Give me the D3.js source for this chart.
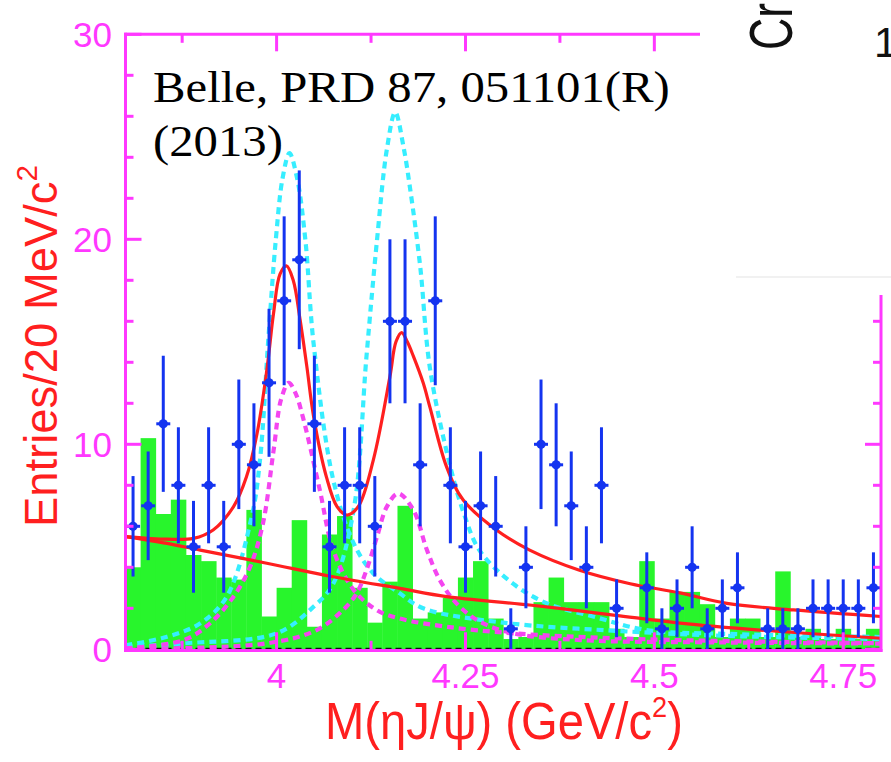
<!DOCTYPE html>
<html><head><meta charset="utf-8">
<script src="https://cdn.jsdelivr.net/npm/d3@7"></script>
<style>html,body{margin:0;padding:0;background:#fff;} svg{display:block}</style>
</head><body><svg id="c" width="891" height="762"></svg>
<script>
// ---------------- DATA ----------------
const binCenters = [3.81,3.83,3.85,3.87,3.89,3.91,3.93,3.95,3.97,3.99,
  4.01,4.03,4.05,4.07,4.09,4.11,4.13,4.15,4.17,4.19,
  4.21,4.23,4.25,4.27,4.29,4.31,4.33,4.35,4.37,4.39,
  4.41,4.43,4.45,4.47,4.49,4.51,4.53,4.55,4.57,4.59,
  4.61,4.63,4.65,4.67,4.69,4.71,4.73,4.75,4.77,4.79];
const binWidth = 0.02;
const dataCounts = [6,7,11,8,5,8,5,10,9,13,
  17,19,11,5,8,8,6,16,16,9,
  17,8,5,7,6,1,4,10,9,7,
  4,8,2,0,3,1,2,4,1,2,
  3,0,1,1,1,2,2,2,2,3];
const dataErrors = [2.45,2.65,3.32,2.83,2.24,2.83,2.24,3.16,3.00,3.61,
  4.12,4.36,3.32,2.24,2.83,2.83,2.45,4.00,4.00,3.00,
  4.12,2.83,2.24,2.65,2.45,1.00,2.00,3.16,3.00,2.65,
  2.00,2.83,1.41,0,1.73,1.00,1.41,2.00,1.00,1.41,
  1.73,0,1.00,1.00,1.00,1.41,1.41,1.41,1.41,1.73];
const sidebandBkg = [4.0,10.3,6.6,7.3,4.6,4.3,3.5,3.4,6.8,1.6,
  3.0,6.3,1.1,5.6,6.5,3.0,1.3,3.3,7.0,1.5,
  1.8,2.5,3.5,4.3,1.5,0.5,0.6,2.3,3.5,2.3,
  2.3,2.3,1.0,0.6,4.3,1.5,2.8,2.8,2.2,0.6,
  1.5,1.5,0.6,3.8,0.6,1.0,0.5,1.0,0.5,1.0];
const fitTotal = [[3.80,5.5],[3.855,5.37],[3.89,5.41],[3.916,5.82],[3.943,6.96],[3.960,8.4],[3.974,10.5],
  [3.987,13.6],[3.996,16.4],[4.0045,18.3],[4.013,18.7],[4.022,18.0],[4.031,16.1],[4.040,13.8],
  [4.049,11.35],[4.066,8.4],[4.080,6.96],[4.093,6.55],[4.108,6.96],[4.128,9.23],[4.150,13.3],
  [4.158,15.0],[4.1655,15.45],[4.173,15.0],[4.181,14.3],[4.194,13.0],[4.203,11.8],[4.225,8.9],
  [4.247,7.28],[4.291,5.82],[4.335,4.84],[4.40,3.87],[4.468,3.2],[4.534,2.75],[4.596,2.24],
  [4.684,1.92],[4.80,1.6]];
const fitBackground = [[3.80,5.5],[3.855,5.17],[3.899,4.84],[3.987,4.2],[4.075,3.54],[4.163,2.97],
  [4.225,2.57],[4.335,2.16],[4.446,1.67],[4.534,1.28],[4.640,0.94],[4.80,0.54]];
const cyanPeak1 = [[3.80,0.2],[3.855,0.61],[3.899,1.27],[3.934,2.57],[3.967,6.47],[3.978,9.23],
  [3.989,15.1],[3.999,20.0],[4.008,23.0],[4.017,24.2],[4.027,23.0],[4.038,20.0],[4.049,14.9],
  [4.075,8.26],[4.102,5.17],[4.128,3.7],[4.163,2.73],[4.194,2.0],[4.30,1.3],[4.45,0.9],
  [4.60,0.65],[4.80,0.5]];
const cyanPeak2 = [[3.80,0.13],[3.877,0.29],[4.000,0.78],[4.049,2.08],[4.075,3.2],[4.102,6.8],
  [4.119,14.3],[4.133,20.0],[4.146,24.4],[4.157,26.2],[4.168,24.5],[4.177,22.4],[4.190,18.7],
  [4.203,13.7],[4.230,8.9],[4.249,6.5],[4.269,4.8],[4.313,3.2],[4.358,2.24],[4.419,1.6],
  [4.490,0.94],[4.60,0.75],[4.80,0.6]];
const magentaPeak1 = [[3.80,0.05],[3.877,0.45],[3.912,1.27],[3.943,2.57],[3.965,4.03],[3.982,6.15],
  [3.996,9.7],[4.006,12.2],[4.016,13.0],[4.025,12.5],[4.035,11.3],[4.057,7.8],[4.075,4.84],
  [4.102,2.9],[4.133,1.9],[4.163,1.5],[4.225,1.1],[4.313,0.78],[4.446,0.54],[4.60,0.4],[4.80,0.3]];
const magentaPeak2 = [[3.80,0.02],[3.987,0.29],[4.053,0.94],[4.088,1.92],[4.106,2.73],[4.119,3.87],
  [4.133,5.5],[4.146,6.96],[4.161,7.6],[4.181,6.8],[4.199,4.84],[4.216,3.38],[4.238,2.24],
  [4.269,1.35],[4.313,0.78],[4.402,0.45],[4.60,0.33],[4.80,0.28]];
const xTickValues = [4, 4.25, 4.5, 4.75];
const xTickLabels = ["4", "4.25", "4.5", "4.75"];
const xMidTicks = [3.875, 4.125, 4.375, 4.625];
const yTickValues = [0, 10, 20, 30];
const yTickLabels = ["0", "10", "20", "30"];
const yMinorTicks = [2,4,6,8,12,14,16,18,22,24,26,28];

// ---------------- LAYOUT ----------------
const L = 125.5, R = 881, T = 34.3, B = 649.3;
const MAG = "#ff38ff", RED = "#ff1f1f", BLUE = "#1434f0", GREEN = "#28f52c",
      CYAN = "#36eeff", MAGC = "#f445f0";
const x = d3.scaleLinear().domain([3.8, 4.8]).range([L, R]);
const y = d3.scaleLinear().domain([0, 30]).range([B, T]);
const svg = d3.select("#c");

svg.append("defs").append("clipPath").attr("id","plot")
  .append("rect").attr("x",L).attr("y",T).attr("width",R-L).attr("height",B-T);

// sideband histogram
svg.append("g").selectAll("rect").data(binCenters).join("rect")
  .attr("x", d => x(d - binWidth/2))
  .attr("width", d => x(d + binWidth/2) - x(d - binWidth/2) + 0.4)
  .attr("y", (d,i) => y(sidebandBkg[i]))
  .attr("height", (d,i) => y(0) - y(sidebandBkg[i]))
  .attr("fill", GREEN);

// black dashed zero line
svg.append("line").attr("x1",L).attr("x2",R).attr("y1",y(0)-0.8).attr("y2",y(0)-0.8)
  .attr("stroke","#111").attr("stroke-width",1.6).attr("stroke-dasharray","6,4");

// curves
const line = d3.line().x(d => x(d[0])).y(d => y(d[1])).curve(d3.curveCatmullRom.alpha(0.5));
const cg = svg.append("g").attr("clip-path","url(#plot)").attr("fill","none");
[[cyanPeak1,CYAN],[cyanPeak2,CYAN],[magentaPeak1,MAGC],[magentaPeak2,MAGC]].forEach(([d,c]) => {
  cg.append("path").attr("d", line(d)).attr("stroke", c).attr("stroke-width", 4.2)
    .attr("stroke-dasharray","7,5");
});
[fitBackground, fitTotal].forEach(d => {
  cg.append("path").attr("d", line(d)).attr("stroke", RED).attr("stroke-width", 3.2);
});

// data points
const pg = svg.append("g");
binCenters.forEach((m,i) => {
  const n = dataCounts[i];
  if (n <= 0) return;
  const cx = x(m), cy = y(n);
  pg.append("line").attr("x1",cx).attr("x2",cx)
    .attr("y1", y(n + dataErrors[i])).attr("y2", y(Math.max(0, n - dataErrors[i])))
    .attr("stroke", BLUE).attr("stroke-width", 3);
  pg.append("line").attr("x1",cx-7).attr("x2",cx+7).attr("y1",cy).attr("y2",cy)
    .attr("stroke", BLUE).attr("stroke-width", 3);
  pg.append("circle").attr("cx",cx).attr("cy",cy).attr("r",4.6).attr("fill",BLUE);
});

// axes frame
const ax = svg.append("g").attr("stroke", MAG).attr("stroke-width", 3).attr("fill","none");
ax.append("line").attr("x1",L).attr("x2",L).attr("y1",T-1.5).attr("y2",B+2.5);
ax.append("line").attr("x1",L-1.5).attr("x2",R+1.5).attr("y1",B+1.2).attr("y2",B+1.2);
ax.append("line").attr("x1",L-1.5).attr("x2",700).attr("y1",T).attr("y2",T);
ax.append("line").attr("x1",R).attr("x2",R).attr("y1",295).attr("y2",B+2.5);
xTickValues.forEach(v => {
  ax.append("line").attr("x1",x(v)).attr("x2",x(v)).attr("y1",B).attr("y2",B-17);
  if (x(v) < 700) ax.append("line").attr("x1",x(v)).attr("x2",x(v)).attr("y1",T).attr("y2",T+17);
});
xMidTicks.forEach(v => {
  ax.append("line").attr("x1",x(v)).attr("x2",x(v)).attr("y1",B).attr("y2",B-8.5);
  if (x(v) < 700) ax.append("line").attr("x1",x(v)).attr("x2",x(v)).attr("y1",T).attr("y2",T+8.5);
});
yTickValues.forEach(v => {
  ax.append("line").attr("x1",L).attr("x2",L+16).attr("y1",y(v)).attr("y2",y(v));
  if (y(v) > 295) ax.append("line").attr("x1",R).attr("x2",R-16).attr("y1",y(v)).attr("y2",y(v));
});
yMinorTicks.forEach(v => {
  ax.append("line").attr("x1",L).attr("x2",L+8).attr("y1",y(v)).attr("y2",y(v));
  if (y(v) > 295) ax.append("line").attr("x1",R).attr("x2",R-8).attr("y1",y(v)).attr("y2",y(v));
});

// tick labels
const tl = svg.append("g").attr("fill", MAG).attr("font-family","'Liberation Sans', Arial, sans-serif")
  .attr("font-size", 35);
xTickValues.forEach((v,i) => tl.append("text").attr("x",x(v)).attr("y",688)
  .attr("text-anchor","middle").text(xTickLabels[i]));
yTickValues.forEach((v,i) => tl.append("text").attr("x",112).attr("y",y(v)+12.5)
  .attr("text-anchor","end").text(yTickLabels[i]));

function fitted(parentTransform, target, build) {
  const g = svg.append("g").attr("transform", parentTransform);
  const t = g.append("text").attr("x",0).attr("y",0);
  build(t);
  const w = t.node().getComputedTextLength();
  t.attr("transform", `scale(${target / w},1)`);
  return t;
}

// axis titles
fitted("translate(325,739)", 358, t => {
  t.attr("fill", RED).attr("font-family","'Liberation Sans', Arial, sans-serif").attr("font-size", 52);
  t.append("tspan").text("M(ηJ/ψ) (GeV/c");
  t.append("tspan").attr("dy",-22).attr("font-size",30).text("2");
  t.append("tspan").attr("dy",22).text(")");
});
fitted("translate(57,527) rotate(-90)", 362, t => {
  t.attr("fill", RED).attr("font-family","'Liberation Sans', Arial, sans-serif").attr("font-size", 46);
  t.append("tspan").text("Entries/20 MeV/c");
  t.append("tspan").attr("dy",-20).attr("font-size",30).text("2");
});

// annotation
const sx = (() => {
  const g = svg.append("g").attr("transform","translate(153,101.7)");
  const t = g.append("text").attr("font-family","'Liberation Serif', 'DejaVu Serif', serif")
    .attr("font-size",45).attr("fill","#000").text("Belle, PRD 87, 051101(R)");
  const s = 517 / t.node().getComputedTextLength();
  t.attr("transform",`scale(${s},1)`);
  return s;
})();
svg.append("g").attr("transform","translate(153,156)")
  .append("text").attr("font-family","'Liberation Serif', 'DejaVu Serif', serif")
  .attr("font-size",45).attr("fill","#000").attr("transform",`scale(${sx},1)`).text("(2013)");

// fragment of neighbouring figure (top right)
svg.append("line").attr("x1",736).attr("x2",891).attr("y1",277).attr("y2",277)
  .attr("stroke","#ececec").attr("stroke-width",1.5);
svg.append("g").attr("transform","translate(792,50) rotate(-90) scale(0.72,1)")
  .append("text").attr("font-family","'Liberation Sans', Arial, sans-serif").attr("font-size",62)
  .attr("fill","#111").text("Cr");
svg.append("text").attr("x",874).attr("y",57).attr("font-family","'Liberation Sans', Arial, sans-serif")
  .attr("font-size",42).attr("fill","#111").text("1");
</script>
</body></html>
